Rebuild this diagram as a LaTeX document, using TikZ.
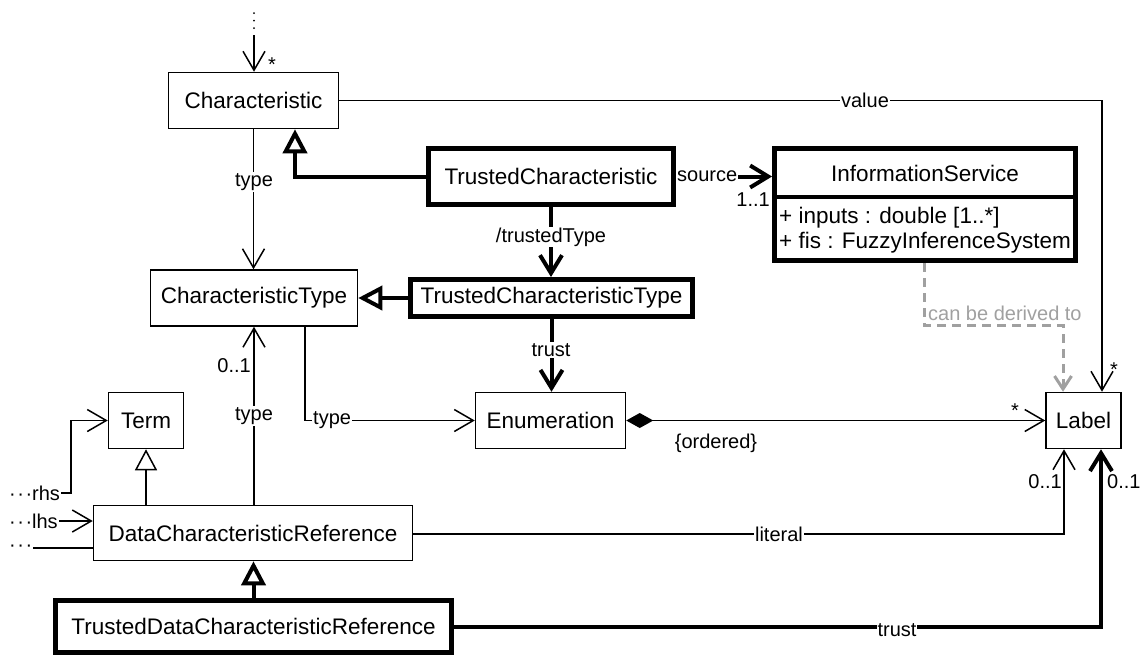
\documentclass[tikz,border=0pt]{standalone}
\usepackage{fontspec}
\setmainfont{Liberation Sans}
\usetikzlibrary{arrows.meta}
\definecolor{dgray}{HTML}{A0A0A0}
\begin{document}
\begin{tikzpicture}[x=1pt,y=-1pt,
  cls/.style={draw, line width=1.5pt, inner sep=0pt, font=\fontsize{22.5pt}{27pt}\selectfont},
  tcls/.style={cls, line width=5pt},
  txt/.style={inner sep=0pt, font=\fontsize{22.5pt}{27pt}\selectfont},
  lbl/.style={font=\fontsize{20pt}{24pt}\selectfont, inner sep=1pt},
  wlbl/.style={lbl, fill=white},
  conn/.style={line width=1.5pt},
  tconn/.style={line width=4pt},
  va/.style={-{Straight Barb[length=19pt,width=22pt]}},
  tva/.style={-{Straight Barb[length=18pt,width=22pt]}},
  gen/.style={-{Triangle[length=24pt,width=24pt,fill=white]}},
  gent/.style={-{Triangle[length=21pt,width=22pt,fill=white]}},
  comp/.style={{Diamond[length=27pt,width=15pt]}-{Straight Barb[length=19pt,width=22pt]}},
  deriv/.style={line width=3pt, draw=dgray, dash pattern=on 9pt off 6pt, -{Straight Barb[length=13pt,width=17pt]}},
  ]
\useasboundingbox (0,0) rectangle (1148,657);

% classes
\node[cls, minimum width=170pt, minimum height=56pt] (char) at (253.5,100.5) {Characteristic};
\node[cls, minimum width=207pt, minimum height=56pt] (ct) at (254,298) {CharacteristicType};
\node[tcls, minimum width=245pt, minimum height=56pt] (tc) at (551,176.5) {TrustedCharacteristic};
\node[tcls, minimum width=282pt, minimum height=37pt] (tct) at (551.5,298) {TrustedCharacteristicType};
\node[tcls, minimum width=301pt, minimum height=112pt] (is) at (925,204.5) {};
\node[txt] (ishead) at (925,173) {InformationService};
\node[txt, anchor=west] (isa1) at (779,218) {+ inputs : double [1..*]};
\node[txt, anchor=west] (isa2) at (779,243) {+ fis : FuzzyInferenceSystem};
\coordinate (isdl) at (774.5,197);
\coordinate (isdr) at (1075.5,197);
\draw[line width=4.5pt] (isdl) -- (isdr);
\node[cls, minimum width=150pt, minimum height=56pt] (enum) at (550.5,420.5) {Enumeration};
\node[cls, minimum width=75pt, minimum height=56pt] (lab) at (1083.5,420.5) {Label};
\node[cls, minimum width=75pt, minimum height=56pt] (term) at (146,420.5) {Term};
\node[cls, minimum width=319pt, minimum height=55pt] (dcr) at (253,533) {DataCharacteristicReference};
\node[tcls, minimum width=396pt, minimum height=52pt] (tdcr) at (253.5,626.5) {TrustedDataCharacteristicReference};

% incoming association at top
\coordinate (topd1) at (254,13);
\coordinate (topd2) at (254,29);
\coordinate (topin) at (254,35);
\draw[line width=2pt, line cap=round, dash pattern=on 0pt off 7.5pt] (topd1) -- (topd2);
\draw[conn, va] (topin) -- (topin |- char.north);
\node[lbl] at (272,65) {*};

% value
\coordinate (v1) at (1102,100.5);
\draw[conn, va] (char.east) -- (v1) -- (v1 |- lab.north);
\node[wlbl] at (865,100.5) {value};
\node[lbl] at (1114,370) {*};

% Characteristic -> CharacteristicType
\draw[conn, va] (char.south) -- (char.south |- ct.north);
\node[wlbl] at (254,182) {type};

% TrustedCharacteristic generalization
\coordinate (g1) at (295,176.5);
\draw[tconn, gen] (tc.west) -- (g1) -- (g1 |- char.south);

% source
\draw[tconn, tva] (tc.east) -- (is.west |- tc.east);
\node[wlbl, anchor=west] at (tc.east) {source};
\node[lbl, anchor=east] at (771,200) {1..1};

% trustedType
\draw[tconn, tva] (tc.south) -- (tc.south |- tct.north);
\node[wlbl] at (551,237) {/trustedType};

% TCT generalization
\draw[tconn, gen] (tct.west) -- (ct.east);

% trust -> Enumeration
\draw[tconn, tva] (tct.south) -- (tct.south |- enum.north);
\node[wlbl] at (551,350) {trust};

% can be derived to
\coordinate (d1) at (924,325);
\coordinate (d2) at (1063,325);
\draw[deriv] (is.south -| d1) -- (d1) -- (d2) -- (d2 |- lab.north);
\node[lbl, text=dgray, anchor=west] at (927,313) {can be derived to};

% CharacteristicType -> Enumeration
\coordinate (t1) at (305,420.5);
\draw[conn, va] (ct.south -| t1) -- (t1) -- (enum.west);
\node[wlbl, anchor=west] at (312,420.5) {type};

% DCR -> CharacteristicType
\draw[conn, va] (dcr.north -| ct.south) -- (ct.south);
\node[lbl, anchor=east] at (252,366) {0..1};
\node[wlbl] at (254,416) {type};

% DCR generalization Term
\draw[conn, gent] (dcr.north -| term.south) -- (term.south);

% rhs, lhs
\node[lbl, anchor=west] (rhs) at (8,493) {·\kern1.5pt·\kern1.5pt·rhs};
\coordinate (r1) at (71,493);
\draw[conn, va] (rhs.east) -- (r1) -- (r1 |- term.west) -- (term.west);
\node[lbl, anchor=west] (lhs) at (8,521) {·\kern1.5pt·\kern1.5pt·lhs};
\draw[conn, va] (lhs.east) -- (lhs.east -| dcr.west);
\node[lbl, anchor=west] (dots3) at (8,548) {·\kern1.5pt·\kern1.5pt·};
\draw[conn] (dots3.east) -- (dots3.east -| dcr.west);

% literal
\coordinate (l1) at (1064,534);
\draw[conn, va] (dcr.east |- l1) -- (l1) -- (l1 |- lab.south);
\node[wlbl] at (779,534) {literal};
\node[lbl, anchor=east] at (1063,482) {0..1};

% TDCR generalization
\draw[tconn, gen] (tdcr.north) -- (tdcr.north |- dcr.south);

% TDCR trust
\coordinate (tr1) at (1101,626.5);
\draw[tconn, tva] (tdcr.east) -- (tr1) -- (tr1 |- lab.south);
\node[wlbl] at (897,630) {trust};
\node[lbl, anchor=west] at (1106,482) {0..1};

% composition
\draw[conn, comp] (enum.east) -- (lab.west);
\node[lbl] at (716,443) {\{ordered\}};
\node[lbl] at (1015,411) {*};
\end{tikzpicture}
\end{document}
